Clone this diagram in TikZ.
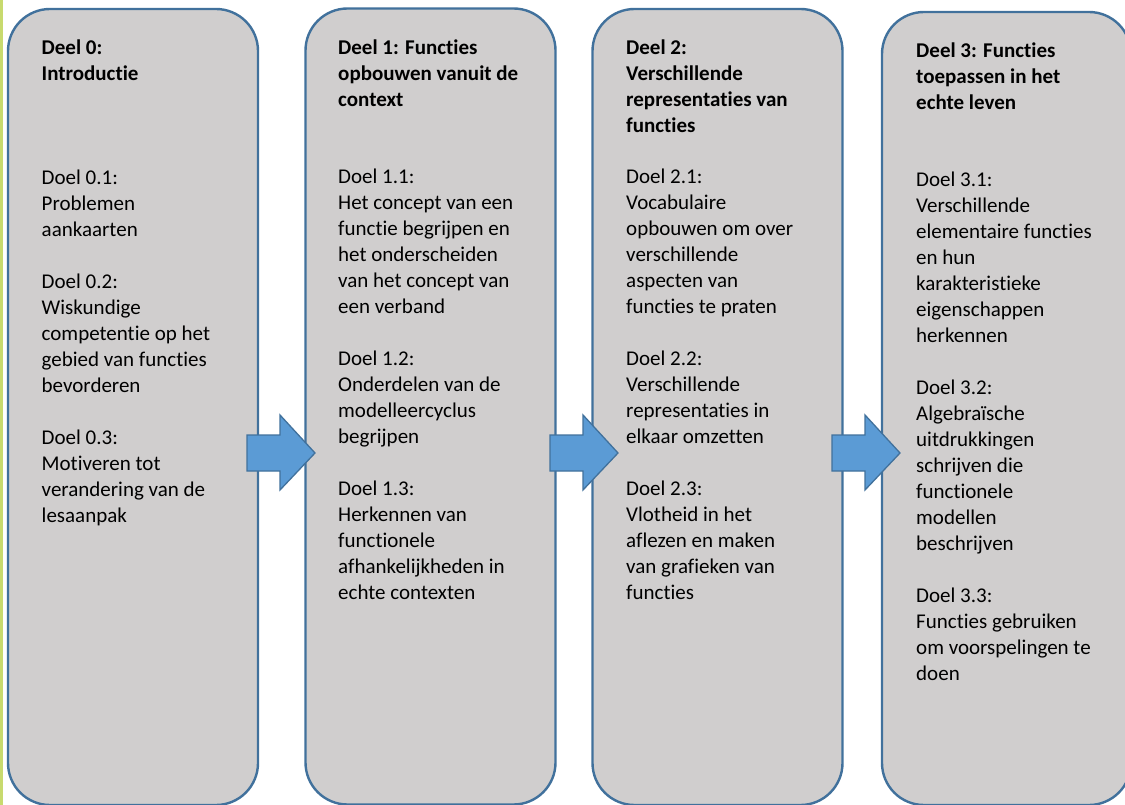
\documentclass[tikz,border=0pt]{standalone}
\usepackage{fontspec}
\setmainfont{Carlito}[Ligatures={NoCommon}]
\usepackage{tikz}

\definecolor{vakgrijs}{RGB}{208,206,206}
\definecolor{randblauw}{RGB}{65,113,156}
\definecolor{pijlblauw}{RGB}{91,155,213}
\definecolor{zijbalk}{RGB}{200,218,110}

\newcommand{\tekstfont}{\fontsize{21pt}{26pt}\selectfont}

\tikzset{
	deelbox/.style={draw=randblauw,line width=2.4pt,fill=vakgrijs,rounded corners=42pt,inner sep=0pt,minimum width=250pt,minimum height=796pt},
	titel/.style={anchor=north west,inner sep=0pt,align=left,font=\tekstfont\bfseries},
	doelen/.style={anchor=north west,inner sep=0pt,align=left,font=\tekstfont},
	pijl/.style={draw=randblauw,line width=1.3pt,fill=pijlblauw,line join=miter}
}

\begin{document}
\begin{tikzpicture}[x=1pt,y=-1pt]
	\useasboundingbox (0,0) rectangle (1125,805);
	\fill[white] (0,0) rectangle (1125,805);
	\fill[zijbalk] (0,0) rectangle (2.7,805);
	\node[deelbox] (deel0) at (133,407) {};
	\node[deelbox] (deel1) at (430.5,406.5) {};
	\node[deelbox] (deel2) at (717.5,407) {};
	\node[deelbox,minimum width=249pt,minimum height=793pt] (deel3) at (1006.5,408.5) {};
	\foreach \x in {247,550,832}{
		\draw[pijl] (\x,435) -- (\x+33,435) -- (\x+33,415) -- (\x+68,453)
			-- (\x+33,490) -- (\x+33,471) -- (\x,471) -- cycle;
	}
	\node[titel] (titel0) at (41.5,35.8) {\strut Deel 0:\\Introductie};
	\node[titel] (titel1) at (338,35.8) {\strut Deel 1: Functies\\opbouwen vanuit de\\context};
	\node[titel] (titel2) at (626,35.8) {\strut Deel 2:\\Verschillende\\representaties van\\functies};
	\node[titel] (titel3) at (916,38.8) {\strut Deel 3: Functies\\toepassen in het\\echte leven};
	\node[doelen] (doelen0) at (41.5,165.8) {\strut Doel 0.1:\\Problemen\\aankaarten\\[26pt]
		Doel 0.2:\\Wiskundige\\competentie op het\\gebied van functies\\bevorderen\\[26pt]
		Doel 0.3:\\Motiveren tot\\verandering van de\\lesaanpak};
	\node[doelen] (doelen1) at (338,164.8) {\strut Doel 1.1:\\Het concept van een\\functie begrijpen en\\het onderscheiden\\van het concept van\\een verband\\[26pt]
		Doel 1.2:\\Onderdelen van de\\modelleercyclus\\begrijpen\\[26pt]
		Doel 1.3:\\Herkennen van\\functionele\\afhankelijkheden in\\echte contexten};
	\node[doelen] (doelen2) at (626,164.8) {\strut Doel 2.1:\\Vocabulaire\\opbouwen om over\\verschillende\\aspecten van\\functies te praten\\[26pt]
		Doel 2.2:\\Verschillende\\representaties in\\elkaar omzetten\\[26pt]
		Doel 2.3:\\Vlotheid in het\\aflezen en maken\\van grafieken van\\functies};
	\node[doelen] (doelen3) at (916,168.3) {\strut Doel 3.1:\\Verschillende\\elementaire functies\\en hun\\karakteristieke\\eigenschappen\\herkennen\\[26pt]
		Doel 3.2:\\Algebraïsche\\uitdrukkingen\\schrijven die\\functionele\\modellen\\beschrijven\\[26pt]
		Doel 3.3:\\Functies gebruiken\\om voorspelingen te\\doen};
\end{tikzpicture}
\end{document}
